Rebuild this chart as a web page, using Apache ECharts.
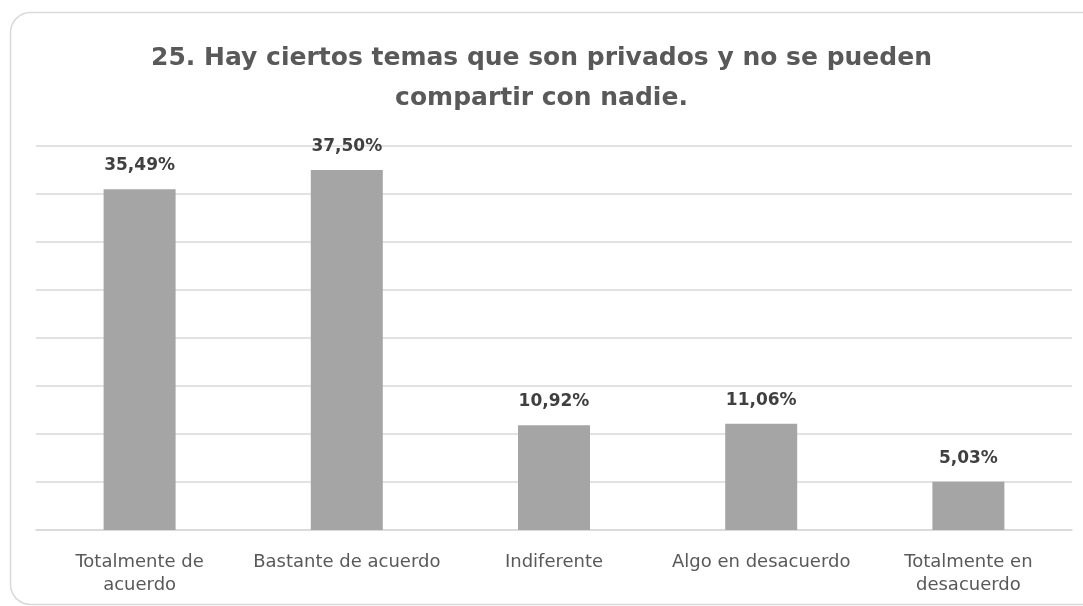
<!DOCTYPE html>
<html><head><meta charset="utf-8">
<script src="https://cdn.jsdelivr.net/npm/echarts@6/dist/echarts.min.js"></script>
<style>html,body{margin:0;padding:0;background:#fff}#c{width:1083px;height:606px}</style>
</head><body><div id="c"></div>
<script>
const categories = ["Totalmente de\nacuerdo", "Bastante de acuerdo", "Indiferente", "Algo en desacuerdo", "Totalmente en\ndesacuerdo"];
const values = [35.49, 37.50, 10.92, 11.06, 5.03];
const titleText = "25. Hay ciertos temas que son privados y no se pueden\ncompartir con nadie.";

const chart = echarts.init(document.getElementById('c'), null, {renderer: 'canvas'});
chart.setOption({
  backgroundColor: '#fff',
  animation: false,
  title: {
    text: titleText,
    left: 'center', top: 33,
    textStyle: {fontFamily: 'DejaVu Sans', fontSize: 25, fontWeight: 'bold', color: '#595959', lineHeight: 40}
  },
  graphic: [{
    type: 'rect', shape: {x: 10.5, y: 12.5, width: 1110, height: 592, r: 20},
    style: {fill: 'none', stroke: '#d9d9d9', lineWidth: 1.5}, silent: true, z: -1
  }],
  grid: {left: 36, right: 11, top: 146, bottom: 76, containLabel: false},
  xAxis: {
    type: 'category', data: categories,
    axisLine: {lineStyle: {color: '#d9d9d9', width: 1.5}},
    axisTick: {show: false},
    axisLabel: {fontFamily: 'DejaVu Sans', fontSize: 18, color: '#595959', lineHeight: 23, margin: 21, interval: 0}
  },
  yAxis: {
    type: 'value', min: 0, max: 40, interval: 5,
    axisLabel: {show: false}, axisLine: {show: false}, axisTick: {show: false},
    splitLine: {lineStyle: {color: '#d9d9d9', width: 1.5}}
  },
  series: [{
    type: 'bar', data: values, barWidth: 72,
    itemStyle: {color: '#a5a5a5'},
    label: {
      show: true, position: 'top', distance: 15,
      formatter: p => p.value.toFixed(2).replace('.', ',') + '%',
      fontFamily: 'DejaVu Sans', fontSize: 17, fontWeight: 'bold', color: '#404040'
    }
  }]
});
</script></body></html>
